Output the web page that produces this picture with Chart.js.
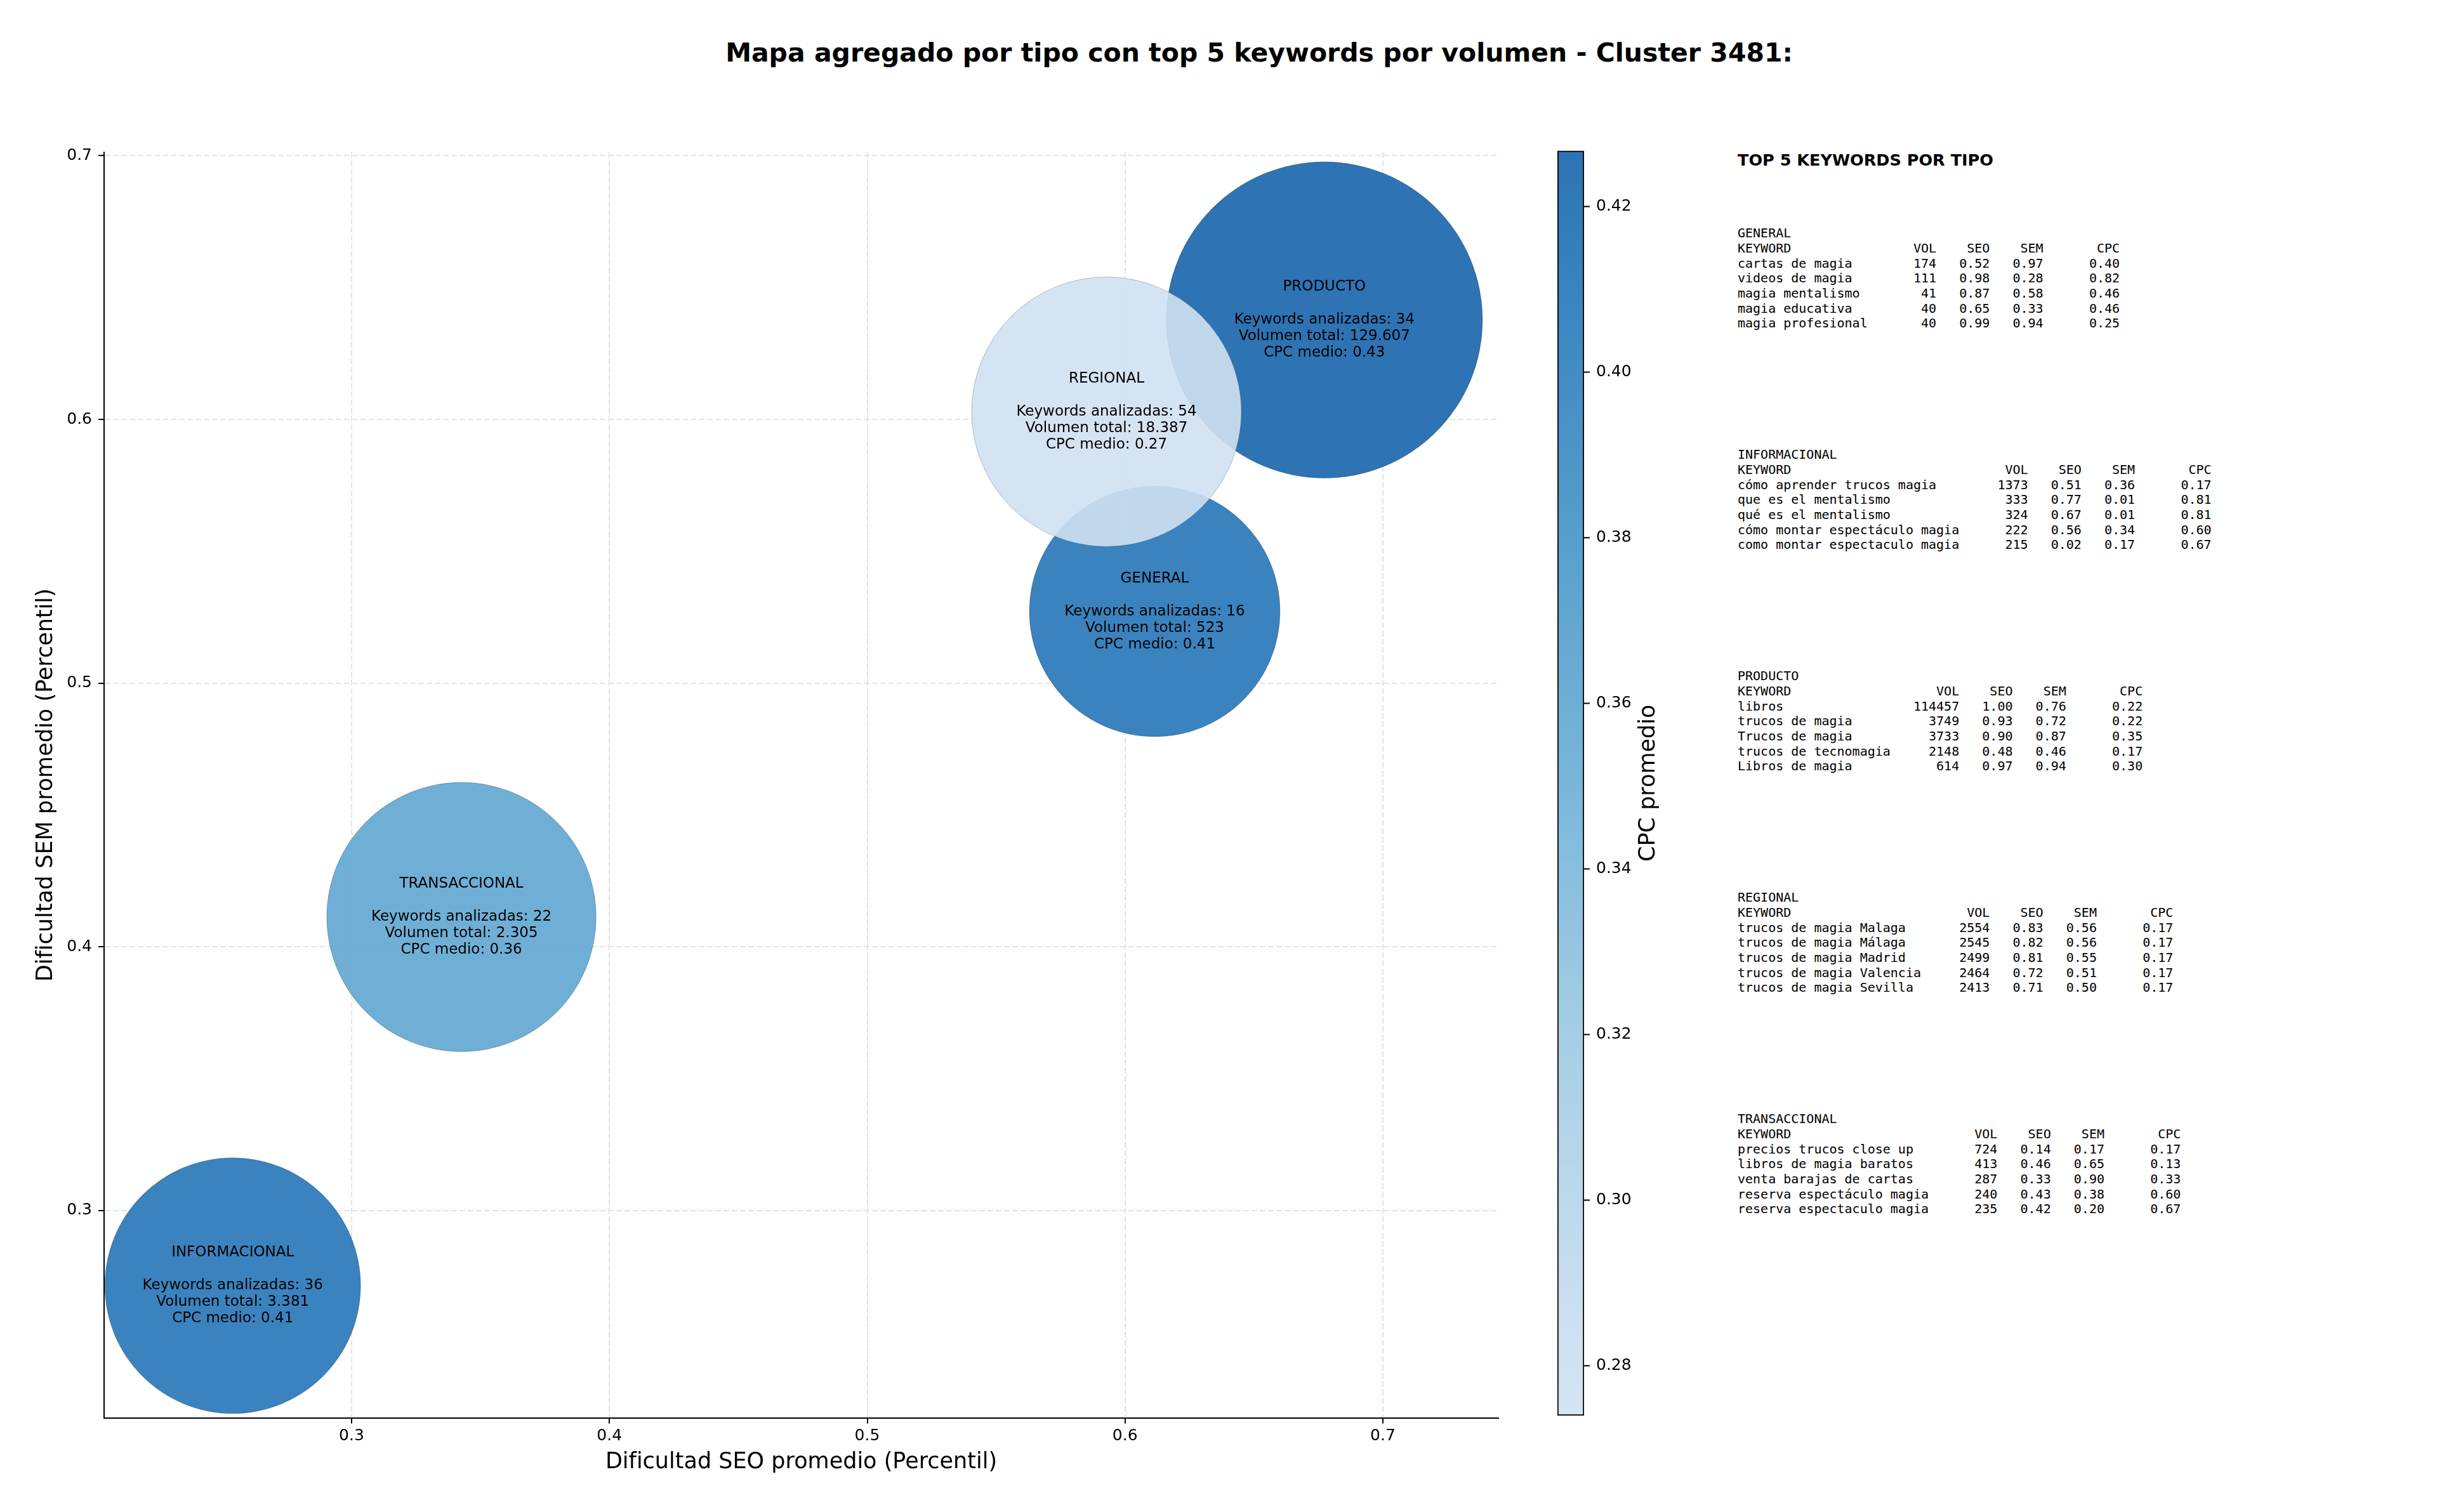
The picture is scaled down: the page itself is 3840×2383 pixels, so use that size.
<!DOCTYPE html>
<html lang="es">
<head>
  <meta charset="UTF-8">
  <title>Mapa agregado por tipo - Cluster 3481</title>
  <script src="https://cdn.jsdelivr.net/npm/chart.js"></script>
  <style>
    body { margin: 0; background: #fff; width: 3840px; height: 2383px; overflow: hidden; position: relative; font-family: 'DejaVu Sans', sans-serif; color: #000; }
    canvas { position: absolute; top: 0; }
    #mapChart { left: 0; }
    #cbChart { left: 2400px; }
    .main-title { position: absolute; left: 1984px; top: 83px; transform: translate(-50%, -50%); font-weight: bold; font-size: 41px; white-space: nowrap; }
    .panel-title { position: absolute; left: 2738px; top: 252px; transform: translateY(-50%); font-weight: bold; font-size: 25.5px; white-space: nowrap; }
    .kw-block { position: absolute; left: 2738px; margin: 0; font-family: 'DejaVu Sans Mono', monospace; font-size: 20px; line-height: 23.7px; white-space: pre; }
  </style>
</head>
<body>
  <div class="main-title">Mapa agregado por tipo con top 5 keywords por volumen - Cluster 3481:</div>
  <canvas id="mapChart" width="2400" height="2383"></canvas>
  <canvas id="cbChart" width="300" height="2383"></canvas>
  <div class="panel-title">TOP 5 KEYWORDS POR TIPO</div>
  <div id="kwPanel"></div>

  <script>
    // agregados por tipo
    const tipos = ['GENERAL', 'INFORMACIONAL', 'PRODUCTO', 'REGIONAL', 'TRANSACCIONAL'];
    const seoPromedio = [0.6115, 0.2539, 0.6773, 0.5928, 0.3426];
    const semPromedio = [0.5272, 0.2715, 0.6377, 0.6029, 0.4113];
    const cpcPromedio = [0.41, 0.41, 0.4267, 0.274, 0.36];
    const keywordsAnalizadas = [16, 36, 34, 54, 22];
    const volumenTotal = [523, 3381, 129607, 18387, 2305];
    const bubbleSize = [24960, 25990, 39750, 28900, 28820]; // marker area (pt^2)

    const xTicks = [0.3, 0.4, 0.5, 0.6, 0.7];
    const yTicks = [0.3, 0.4, 0.5, 0.6, 0.7];
    const cbTicks = [0.28, 0.30, 0.32, 0.34, 0.36, 0.38, 0.40, 0.42];
    const xLimits = [0.204, 0.7448];
    const yLimits = [0.2214, 0.7013];

    // top 5 keywords: [keyword, vol, seo, sem, cpc]
    const topGeneral = [
      ['cartas de magia', 174, 0.52, 0.97, 0.40],
      ['videos de magia', 111, 0.98, 0.28, 0.82],
      ['magia mentalismo', 41, 0.87, 0.58, 0.46],
      ['magia educativa', 40, 0.65, 0.33, 0.46],
      ['magia profesional', 40, 0.99, 0.94, 0.25]
    ];
    const topInformacional = [
      ['cómo aprender trucos magia', 1373, 0.51, 0.36, 0.17],
      ['que es el mentalismo', 333, 0.77, 0.01, 0.81],
      ['qué es el mentalismo', 324, 0.67, 0.01, 0.81],
      ['cómo montar espectáculo magia', 222, 0.56, 0.34, 0.60],
      ['como montar espectaculo magia', 215, 0.02, 0.17, 0.67]
    ];
    const topProducto = [
      ['libros', 114457, 1.00, 0.76, 0.22],
      ['trucos de magia', 3749, 0.93, 0.72, 0.22],
      ['Trucos de magia', 3733, 0.90, 0.87, 0.35],
      ['trucos de tecnomagia', 2148, 0.48, 0.46, 0.17],
      ['Libros de magia', 614, 0.97, 0.94, 0.30]
    ];
    const topRegional = [
      ['trucos de magia Malaga', 2554, 0.83, 0.56, 0.17],
      ['trucos de magia Málaga', 2545, 0.82, 0.56, 0.17],
      ['trucos de magia Madrid', 2499, 0.81, 0.55, 0.17],
      ['trucos de magia Valencia', 2464, 0.72, 0.51, 0.17],
      ['trucos de magia Sevilla', 2413, 0.71, 0.50, 0.17]
    ];
    const topTransaccional = [
      ['precios trucos close up', 724, 0.14, 0.17, 0.17],
      ['libros de magia baratos', 413, 0.46, 0.65, 0.13],
      ['venta barajas de cartas', 287, 0.33, 0.90, 0.33],
      ['reserva espectáculo magia', 240, 0.43, 0.38, 0.60],
      ['reserva espectaculo magia', 235, 0.42, 0.20, 0.67]
    ];
    const topPorTipo = [topGeneral, topInformacional, topProducto, topRegional, topTransaccional];

    Chart.defaults.font.family = "'DejaVu Sans', sans-serif";
    Chart.defaults.color = '#000';

    // matplotlib "Blues", using the 0.2-0.8 part of it
    const bluesStops = [
      [0, 247, 251, 255], [0.125, 222, 235, 247], [0.25, 198, 219, 239],
      [0.375, 158, 202, 225], [0.5, 107, 174, 214], [0.625, 66, 146, 198],
      [0.75, 33, 113, 181], [0.875, 8, 81, 156], [1, 8, 48, 107]
    ];
    function blues(t) {
      for (let i = 1; i < bluesStops.length; i++) {
        const a = bluesStops[i - 1], b = bluesStops[i];
        if (t <= b[0]) {
          const f = (t - a[0]) / (b[0] - a[0]);
          return [1, 2, 3].map(k => Math.round(a[k] + (b[k] - a[k]) * f));
        }
      }
      return bluesStops[bluesStops.length - 1].slice(1);
    }
    const cpcMin = Math.min(...cpcPromedio);
    const cpcMax = Math.max(...cpcPromedio);
    function cpcColor(c) {
      const t = (c - cpcMin) / (cpcMax - cpcMin);
      const [r, g, b] = blues(0.2 + 0.6 * t);
      return `rgba(${r}, ${g}, ${b}, 0.9)`;
    }
    const markerRadius = s => Math.sqrt(s) / 2 * 180 / 72;
    const miles = v => String(v).replace(/\B(?=(\d{3})+(?!\d))/g, '.');

    const bubbleLabels = {
      id: 'bubbleLabels',
      afterDatasetsDraw(chart) {
        const ctx = chart.ctx;
        const meta = chart.getDatasetMeta(0);
        ctx.save();
        ctx.font = "23px 'DejaVu Sans'";
        ctx.fillStyle = '#000';
        ctx.textAlign = 'center';
        ctx.textBaseline = 'middle';
        meta.data.forEach((pt, i) => {
          const lines = [
            tipos[i], '',
            'Keywords analizadas: ' + keywordsAnalizadas[i],
            'Volumen total: ' + miles(volumenTotal[i]),
            'CPC medio: ' + cpcPromedio[i].toFixed(2)
          ];
          lines.forEach((txt, j) => ctx.fillText(txt, pt.x, pt.y + (j - 2) * 26));
        });
        ctx.restore();
      }
    };

    const gridStyle = { color: '#e4e4e4', lineWidth: 2, tickLength: 9, tickColor: '#000', tickWidth: 2, tickBorderDash: [] };
    const borderStyle = { color: '#000', width: 2, dash: [9, 4] };

    new Chart(document.getElementById('mapChart'), {
      type: 'bubble',
      data: {
        datasets: [{
          data: tipos.map((t, i) => ({ x: seoPromedio[i], y: semPromedio[i], r: markerRadius(bubbleSize[i]) })),
          backgroundColor: cpcPromedio.map(cpcColor),
          borderColor: 'rgba(0, 0, 0, 0.22)',
          borderWidth: 1,
          clip: false
        }]
      },
      options: {
        responsive: false,
        animation: false,
        layout: { autoPadding: false, padding: { left: 0, top: 240, right: 39, bottom: 0 } },
        plugins: { legend: { display: false }, tooltip: { enabled: false } },
        scales: {
          x: {
            type: 'linear',
            min: xLimits[0],
            max: xLimits[1],
            afterBuildTicks: s => { s.ticks = xTicks.map(v => ({ value: v })); },
            afterFit: s => { s.height = 148.5; },
            ticks: { callback: v => v.toFixed(1), autoSkip: false, maxRotation: 0, padding: 5, font: { size: 25 } },
            grid: gridStyle,
            border: borderStyle,
            title: { display: true, text: 'Dificultad SEO promedio (Percentil)', font: { size: 35 }, padding: { top: 0, bottom: 57 } }
          },
          y: {
            type: 'linear',
            min: yLimits[0],
            max: yLimits[1],
            afterBuildTicks: s => { s.ticks = yTicks.map(v => ({ value: v })); },
            afterFit: s => { s.width = 164; },
            ticks: { callback: v => v.toFixed(1), autoSkip: false, padding: 10, font: { size: 25 } },
            grid: gridStyle,
            border: borderStyle,
            title: { display: true, text: 'Dificultad SEM promedio (Percentil)', font: { size: 35 }, padding: { top: 52, bottom: 0 } }
          }
        }
      },
      plugins: [bubbleLabels]
    });

    // colorbar
    const cbLabel = {
      id: 'cbLabel',
      afterDraw(chart) {
        const ctx = chart.ctx;
        ctx.save();
        ctx.translate(chart.chartArea.right + 102, (chart.chartArea.top + chart.chartArea.bottom) / 2);
        ctx.rotate(-Math.PI / 2);
        ctx.font = "35px 'DejaVu Sans'";
        ctx.fillStyle = '#000';
        ctx.textAlign = 'center';
        ctx.textBaseline = 'middle';
        ctx.fillText('CPC promedio', 0, 0);
        ctx.restore();
      }
    };

    new Chart(document.getElementById('cbChart'), {
      type: 'bar',
      data: {
        labels: ['CPC'],
        datasets: [{
          data: [[cpcMin, cpcMax]],
          backgroundColor: (c) => {
            const area = c.chart.chartArea;
            if (!area) return cpcColor(cpcMax);
            const g = c.chart.ctx.createLinearGradient(0, area.bottom, 0, area.top);
            for (let k = 0; k <= 20; k++) g.addColorStop(k / 20, cpcColor(cpcMin + (cpcMax - cpcMin) * k / 20));
            return g;
          },
          borderColor: '#000',
          borderWidth: 2,
          borderSkipped: false,
          barPercentage: 1,
          categoryPercentage: 1
        }]
      },
      options: {
        responsive: false,
        animation: false,
        layout: { autoPadding: false, padding: { left: 54, top: 237.6, right: 0, bottom: 152 } },
        plugins: { legend: { display: false }, tooltip: { enabled: false } },
        scales: {
          x: { display: false },
          y: {
            position: 'right',
            min: cpcMin,
            max: cpcMax,
            afterBuildTicks: s => { s.ticks = cbTicks.map(v => ({ value: v })); },
            afterFit: s => { s.width = 204; },
            ticks: { callback: v => v.toFixed(2), autoSkip: false, padding: 10, font: { size: 25 } },
            grid: { drawOnChartArea: false, tickLength: 9, tickColor: '#000', tickWidth: 2 },
            border: { display: false }
          }
        }
      },
      plugins: [cbLabel]
    });

    // top-5 text panel
    const panel = document.getElementById('kwPanel');
    topPorTipo.forEach((rows, i) => {
      const w = Math.max(...rows.map(r => r[0].length)) + 3;
      const lines = [tipos[i],
        'KEYWORD'.padEnd(w) + 'VOL'.padStart(6) + 'SEO'.padStart(7) + 'SEM'.padStart(7) + 'CPC'.padStart(10)];
      rows.forEach(r => {
        lines.push(r[0].padEnd(w) + String(r[1]).padStart(6) + r[2].toFixed(2).padStart(7) +
          r[3].toFixed(2).padStart(7) + r[4].toFixed(2).padStart(10));
      });
      const pre = document.createElement('pre');
      pre.className = 'kw-block';
      pre.style.top = (368 - 11.85 + i * 349) + 'px';
      pre.textContent = lines.join('\n');
      panel.appendChild(pre);
    });
  </script>
</body>
</html>
